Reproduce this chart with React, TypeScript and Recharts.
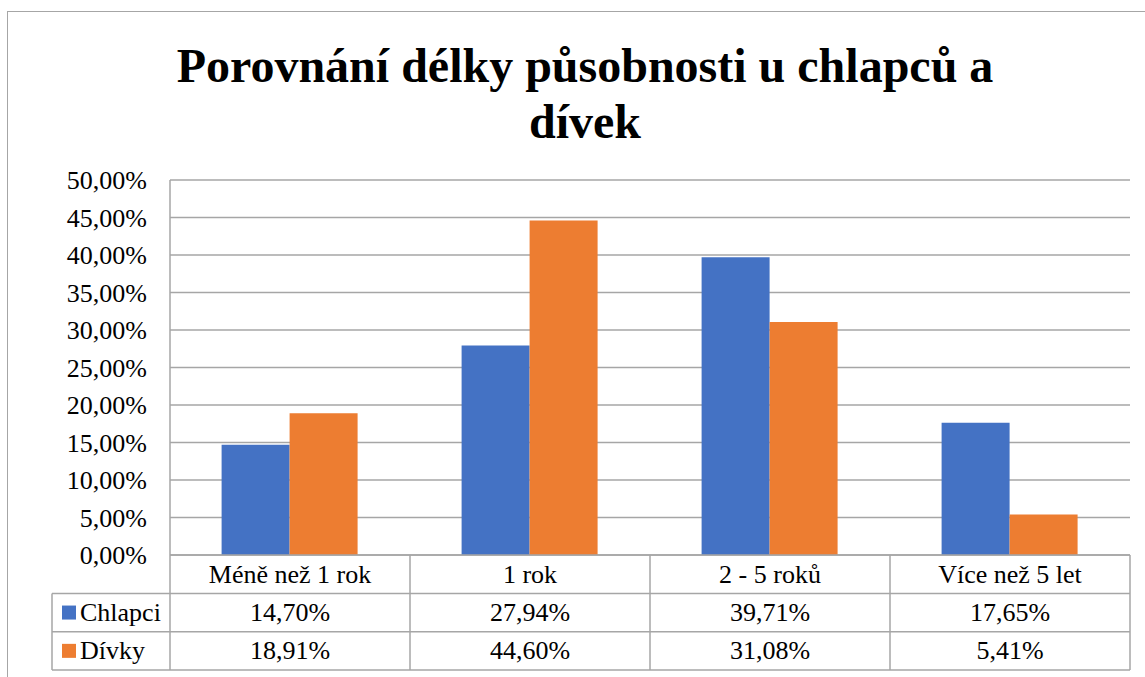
import { BarChart, Bar, XAxis, YAxis, CartesianGrid } from "recharts"

const categories = ["Méně než 1 rok", "1 rok", "2 - 5 roků", "Více než 5 let"]
const chlapci = [14.7, 27.94, 39.71, 17.65]
const divky = [18.91, 44.6, 31.08, 5.41]
const yTicks = [0, 5, 10, 15, 20, 25, 30, 35, 40, 45, 50]

const series = [
  { key: "chlapci", name: "Chlapci", color: "#4472C4", values: chlapci },
  { key: "divky", name: "Dívky", color: "#ED7D31", values: divky },
]

const data = categories.map((c, i) => ({ name: c, chlapci: chlapci[i], divky: divky[i] }))

const W = 1145
const H = 677
const PLOT_LEFT = 170
const PLOT_RIGHT = 1130
const COL_W = (PLOT_RIGHT - PLOT_LEFT) / categories.length
const ROW_H = 38.3
const LEGEND_LEFT = 52
const GRID = "#A6A6A6"
const FONT = "Liberation Serif"

const fmt = (v: number) => v.toFixed(2).replace(".", ",") + "%"

// x-axis tick doubles as the data table under the plot
function TableTick(props: any) {
  const { x, y, payload } = props
  const i = payload.index
  const l = x - COL_W / 2
  const r = x + COL_W / 2
  const bottom = y + ROW_H * 3
  return (
    <g style={{ fontFamily: FONT, fontSize: 26 }} fill="#000">
      <line x1={r} y1={y} x2={r} y2={bottom} stroke={GRID} strokeWidth={1.5} />
      {i === 0 && <line x1={l} y1={y} x2={l} y2={bottom} stroke={GRID} strokeWidth={1.5} />}
      {[1, 2, 3].map((k) => (
        <line
          key={k}
          x1={i === 0 ? LEGEND_LEFT : l}
          y1={y + ROW_H * k}
          x2={r}
          y2={y + ROW_H * k}
          stroke={GRID}
          strokeWidth={1.5}
        />
      ))}
      <text x={x} y={y + ROW_H / 2} textAnchor="middle" dominantBaseline="central">
        {payload.value}
      </text>
      {series.map((s, k) => (
        <text key={s.key} x={x} y={y + ROW_H * (k + 1.5)} textAnchor="middle" dominantBaseline="central">
          {fmt(s.values[i])}
        </text>
      ))}
      {i === 0 && (
        <g>
          <line x1={LEGEND_LEFT} y1={y + ROW_H} x2={LEGEND_LEFT} y2={bottom} stroke={GRID} strokeWidth={1.5} />
          {series.map((s, k) => (
            <g key={s.key}>
              <rect x={62} y={y + ROW_H * (k + 1.5) - 7} width={14} height={14} fill={s.color} />
              <text x={80} y={y + ROW_H * (k + 1.5)} textAnchor="start" dominantBaseline="central">
                {s.name}
              </text>
            </g>
          ))}
        </g>
      )}
    </g>
  )
}

export default function App() {
  return (
    <div
      style={{
        position: "absolute",
        left: 0,
        top: 0,
        width: W,
        height: H,
        background: "#fff",
        overflow: "hidden",
        fontFamily: FONT,
      }}
    >
      <div
        style={{
          position: "absolute",
          left: 7,
          top: 11,
          width: W,
          height: H,
          border: `1.5px solid ${GRID}`,
          boxSizing: "border-box",
        }}
      />
      <div
        style={{
          position: "absolute",
          left: 85,
          top: 38,
          width: 1000,
          textAlign: "center",
          fontFamily: FONT,
          fontWeight: "bold",
          fontSize: 48,
          lineHeight: "56px",
          whiteSpace: "nowrap",
        }}
      >
        Porovnání délky působnosti u chlapců a
        <br />
        dívek
      </div>
      <div style={{ position: "absolute", left: 0, top: 0 }}>
        <BarChart
          width={W}
          height={H}
          data={data}
          style={{ fontFamily: FONT }}
          margin={{ top: 180, right: W - PLOT_RIGHT, bottom: 7, left: 70 }}
          barCategoryGap="21.5%"
          barGap={0}
        >
          <CartesianGrid vertical={false} stroke={GRID} strokeWidth={1.5} />
          <YAxis
            width={100}
            domain={[0, 50]}
            ticks={yTicks}
            tickFormatter={fmt}
            tickLine={false}
            tickSize={0}
            tickMargin={23}
            axisLine={{ stroke: GRID, strokeWidth: 1.5 }}
            tick={{ fontSize: 26, fill: "#000", fontFamily: FONT }}
            interval={0}
          />
          <XAxis
            dataKey="name"
            height={ROW_H * 3}
            tickLine={false}
            tickSize={0}
            tickMargin={0}
            axisLine={{ stroke: GRID, strokeWidth: 1.5 }}
            tick={<TableTick />}
            interval={0}
          />
          {series.map((s) => (
            <Bar key={s.key} dataKey={s.key} name={s.name} fill={s.color} isAnimationActive={false} />
          ))}
        </BarChart>
      </div>
    </div>
  )
}
